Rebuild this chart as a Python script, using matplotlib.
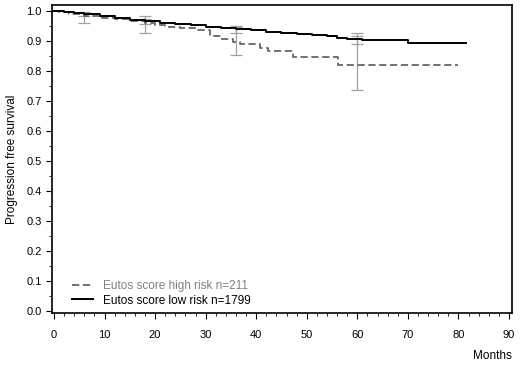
import numpy as np
import matplotlib
matplotlib.use("Agg")
import matplotlib.pyplot as plt
from matplotlib.ticker import MultipleLocator

plt.rcParams['font.family'] = ['Liberation Sans', 'DejaVu Sans']

# Kaplan-Meier curves
low_t = [0, 2, 4, 6, 9, 12, 15, 18, 21, 24, 27, 30, 33, 36, 39, 42, 45, 48, 51, 54, 56, 58, 61, 70, 81.6]
low_s = [1.0, 0.997, 0.993, 0.989, 0.984, 0.978, 0.971, 0.965, 0.960, 0.956, 0.952, 0.948, 0.944,
         0.940, 0.935, 0.931, 0.927, 0.924, 0.920, 0.915, 0.909, 0.905, 0.903, 0.892, 0.892]

high_t = [0, 1, 3, 6, 9, 12, 15, 18, 20, 22, 25, 28, 30.8, 33, 35.4, 36.8, 40.7, 42.3, 47.3, 56.2, 80]
high_s = [1.0, 0.996, 0.99, 0.984, 0.978, 0.972, 0.966, 0.96, 0.954, 0.948, 0.943, 0.938, 0.915,
          0.908, 0.896, 0.89, 0.876, 0.868, 0.845, 0.82, 0.82]

# confidence intervals at fixed time points
ci_t = [6, 18, 36, 60]
high_lo = [0.959, 0.926, 0.853, 0.737]
high_hi = [0.996, 0.983, 0.951, 0.926]
low_lo = [0.984, 0.958, 0.928, 0.889]
low_hi = [0.994, 0.972, 0.948, 0.918]

labels = ["Eutos score high risk n=211", "Eutos score low risk n=1799"]


def ci_bars(ax, t, lo, hi):
    lo = np.array(lo)
    hi = np.array(hi)
    mid = (lo + hi) / 2
    ax.errorbar(t, mid, yerr=[mid - lo, hi - mid], fmt='none', ecolor='#a0a0a0',
                elinewidth=0.9, capsize=4.5, capthick=0.9, zorder=1)


def main():
    fig = plt.figure(figsize=(5.2, 3.69), dpi=100)
    ax = fig.add_axes([0.1, 0.152, 0.8846, 0.8345])

    ci_bars(ax, ci_t, high_lo, high_hi)
    ci_bars(ax, ci_t, low_lo, low_hi)

    h1, = ax.plot(high_t, high_s, drawstyle='steps-post', color='#666666', lw=1.3,
                  dashes=(4, 2), zorder=2)
    h2, = ax.plot(low_t, low_s, drawstyle='steps-post', color='black', lw=1.4, zorder=3)

    ax.set_xlim(-0.4, 90.6)
    ax.set_ylim(-0.007, 1.02)
    ax.xaxis.set_major_locator(MultipleLocator(10))
    ax.xaxis.set_minor_locator(MultipleLocator(2))
    ax.yaxis.set_major_locator(MultipleLocator(0.1))
    ax.yaxis.set_minor_locator(MultipleLocator(0.05))
    ax.yaxis.set_major_formatter(plt.FormatStrFormatter('%.1f'))
    ax.tick_params(which='major', length=4, width=0.8, labelsize=8)
    ax.tick_params(which='minor', length=2, width=0.6)
    ax.tick_params(axis='x', pad=8)
    for sp in ax.spines.values():
        sp.set_linewidth(1.2)

    ax.set_ylabel("Progression free survival", fontsize=8.5, labelpad=6)
    fig.text(0.985, 0.02, "Months", fontsize=8.5, ha='right', va='bottom')

    leg = ax.legend([h1, h2], labels, loc='lower left', frameon=False, fontsize=8.5,
                    handlelength=1.8, handletextpad=0.8, labelspacing=0.25,
                    bbox_to_anchor=(0.02, -0.014))
    leg.get_texts()[0].set_color('#808080')

    fig.savefig("out.png", dpi=100)


if __name__ == "__main__":
    main()
